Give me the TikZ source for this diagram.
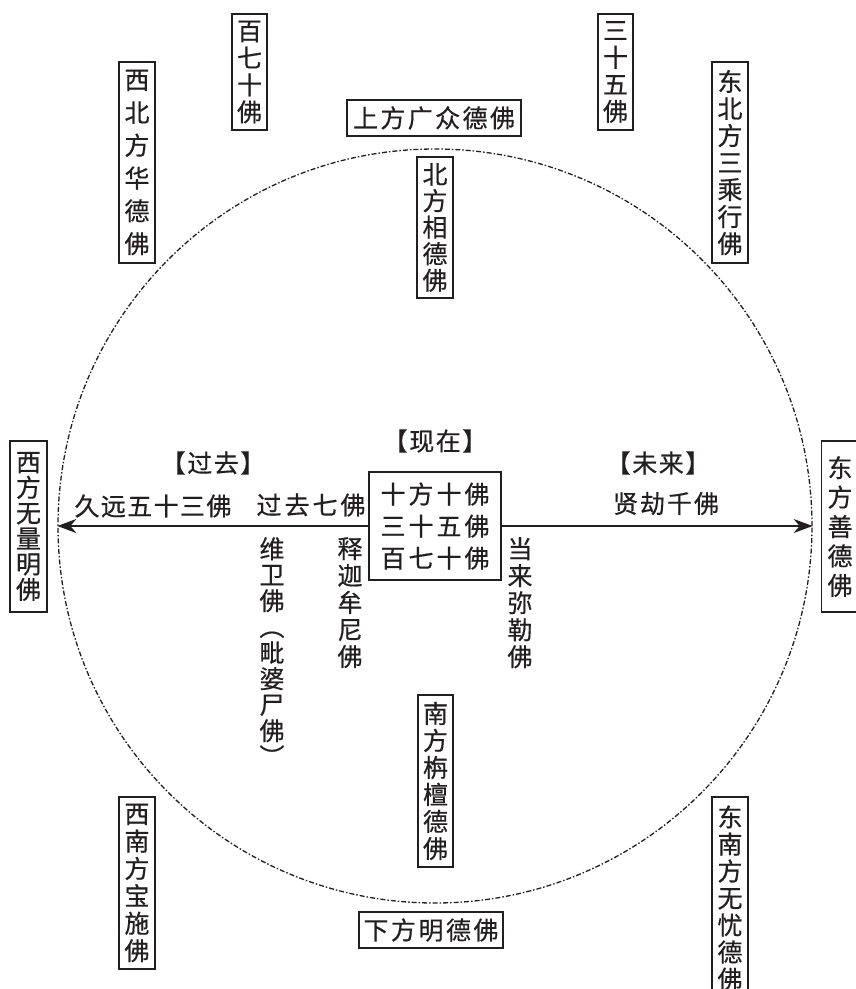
\documentclass[tikz,border=0pt]{standalone}
\usepackage{fontspec}
\newfontfamily\cjk[FakeBold=0.5]{Noto Sans CJK SC}
\usetikzlibrary{arrows.meta}
\definecolor{ink}{HTML}{231F20}
\ExplSyntaxOn
\NewDocumentCommand\hs{m m}
 {
  \bool_set_true:N \l_tmpa_bool
  \tl_map_inline:nn {#2}
   {
    \bool_if:NF \l_tmpa_bool { \hspace*{#1} }
    \bool_set_false:N \l_tmpa_bool
    ##1
   }
 }
\ExplSyntaxOff
\begin{document}
\begin{tikzpicture}[x=1pt,y=-1pt,
  txt/.style={font=\cjk\fontsize{25}{26}\selectfont, text=ink, inner sep=0pt},
  vt/.style={txt, align=center, font=\cjk\fontsize{25}{#1}\selectfont},
  frm/.style={draw=ink, line width=1.1pt, inner sep=0pt},
  arr/.style={draw=ink, line width=1.5pt, -{Stealth[length=19pt,width=14pt,inset=6pt]}},
  ring/.style={circle, draw=ink, line width=1.3pt, dash pattern=on 5pt off 2pt on 1.5pt off 2pt, inner sep=0pt}]
\useasboundingbox (0,0) rectangle (856,989);

% dashed circle
\node[ring, minimum size=754pt] (C) at (435,526) {};

% centre box
\node[frm, vt=32, minimum width=132pt, minimum height=108pt] (ctr) at (435,526)
  {\hs{3pt}{十方十佛}\\\hs{3pt}{三十五佛}\\\hs{3pt}{百七十佛}};

% direction boxes
\node[frm, vt=25.5, minimum width=37pt, minimum height=171pt] (w) at (28.5,526.5) {西\\方\\无\\量\\明\\佛};
\node[frm, vt=29.4, minimum width=37pt, minimum height=171pt] (e) at (840,526.5) {东\\方\\善\\德\\佛};
\node[frm, vt=26.5, minimum width=36pt, minimum height=141pt] (n) at (435,227.5) {北\\方\\相\\德\\佛};
\node[frm, txt, minimum width=174pt, minimum height=36pt] (up) at (434,118) {\hs{2.4pt}{上方广众德佛}};
\node[frm, vt=27, minimum width=35pt, minimum height=116pt] (b170) at (249.5,72) {百\\七\\十\\佛};
\node[frm, vt=32.8, minimum width=36pt, minimum height=201pt] (nw) at (137,162.5) {西\\北\\方\\华\\德\\佛};
\node[frm, vt=27, minimum width=35pt, minimum height=116pt] (b35) at (615.5,72) {三\\十\\五\\佛};
\node[frm, vt=27, minimum width=36pt, minimum height=201pt] (ne) at (730,162.5) {东\\北\\方\\三\\乘\\行\\佛};
\node[frm, vt=27, minimum width=35pt, minimum height=172pt] (s) at (435.5,781) {南\\方\\栴\\檀\\德\\佛};
\node[frm, txt, minimum width=144pt, minimum height=36pt] (down) at (431,930) {\hs{2.5pt}{下方明德佛}};
\node[frm, vt=27.4, minimum width=36pt, minimum height=172pt] (sw) at (137,883) {西\\南\\方\\宝\\施\\佛};
\node[frm, vt=27, minimum width=36pt, minimum height=202pt] (se) at (730,898) {东\\南\\方\\无\\忧\\德\\佛};

% time labels
\node[txt] (past) at (213,463) {\hs{1.5pt}{【过去】}};
\node[txt] (now) at (435,441) {\hs{1.5pt}{【现在】}};
\node[txt] (fut) at (658,463) {\hs{1.5pt}{【未来】}};
\node[txt] (p53) at (153,506) {\hs{1.4pt}{久远五十三佛}};
\node[txt] (p7) at (311,505) {\hs{3pt}{过去七佛}};
\node[txt] (f1000) at (666,503.5) {\hs{2pt}{贤劫千佛}};

% vertical labels under the axis
\node[vt=26, anchor=north] (wei) at (272,537) {维\\卫\\佛\\︵\\毗\\婆\\尸\\佛\\︶};
\node[vt=27, anchor=north] (shj) at (350,537) {释\\迦\\牟\\尼\\佛};
\node[vt=27, anchor=north] (ml) at (520,537) {当\\来\\弥\\勒\\佛};

% axis arrows
\draw[arr] (ctr.west) -- (C.west);
\draw[arr] (ctr.east) -- (C.east);
\end{tikzpicture}
\end{document}
